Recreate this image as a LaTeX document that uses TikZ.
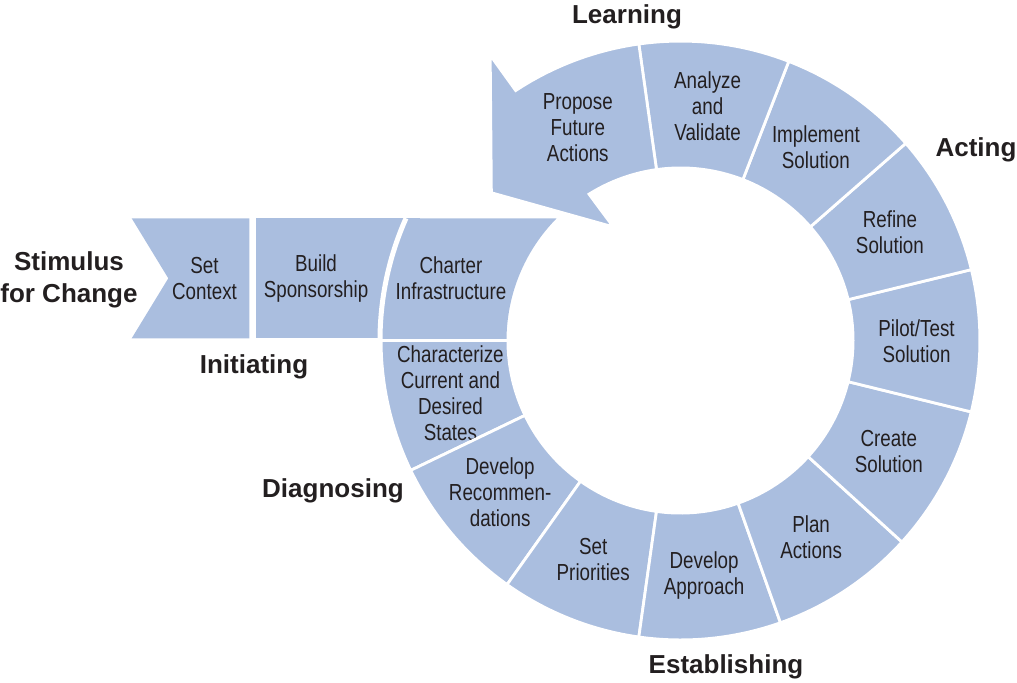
\documentclass[tikz,border=0pt]{standalone}
\usepackage{fontspec}
\setmainfont{Liberation Sans}
\newfontfamily\narrowsf{Liberation Sans}[FakeStretch=0.81]
\usetikzlibrary{calc}
\definecolor{ringblue}{RGB}{170,190,223}
\definecolor{ink}{RGB}{35,31,32}
\tikzset{
  seg/.style={fill=ringblue,draw=white,line width=1.4pt},
  seg text/.style={align=center,text=ink,inner sep=0pt,font=\narrowsf\fontsize{11.6}{13}\selectfont},
  phase/.style={align=center,text=ink,inner sep=0pt,font=\bfseries\fontsize{13}{16}\selectfont},
}

\begin{document}
\begin{tikzpicture}[x=0.5pt,y=0.5pt]
	\useasboundingbox (0,0) rectangle (1017,-682);

	% initiating strip
	\fill[ringblue] (131.7,-218.3) -- (249.3,-218.3) -- (249.3,-338.3) -- (131.7,-338.3) -- (168.3,-278.3) -- cycle;
	\fill[ringblue] (256,-218.3) rectangle (420,-338.3);

	\begin{scope}[shift={(680.5,-340.5)}]
		\def\rin{172.6}
		\def\rout{299.4}
		% charter piece, cut off at the top of the strip
		\fill[ringblue] (156:300.5) -- (135.4:174) arc[start angle=135.4,end angle=180,radius=174]
		    -- (180:300.5) arc[start angle=180,end angle=156,radius=300.5] -- cycle;
		\draw[white,line width=2.5pt] (156:300.5) arc[start angle=156,end angle=180,radius=300.5];

		% the ring
		\foreach \a/\b/\txt [count=\i] in {
		    180/205.7/{Characterize\\Current and\\Desired\\States},
		    205.7/234.6/{Develop\\Recommen-\\dations},
		    234.6/262/{Set\\Priorities},
		    262/289.5/{Develop\\Approach},
		    289.5/317.7/{Plan\\Actions},
		    317.7/346.2/{Create\\Solution},
		    346.2/373.7/{Pilot/Test\\Solution},
		    373.7/401.2/{Refine\\Solution},
		    401.2/428.8/{Implement\\Solution},
		    428.8/458/{Analyze\\and\\Validate}} {
			\pgfmathsetmacro\m{(\a+\b)/2}
			\path[seg] (\a:\rin) arc[start angle=\a,end angle=\b,radius=\rin]
			    -- (\b:\rout) arc[start angle=\b,end angle=\a,radius=\rout] -- cycle;
			\node[seg text] (seg\i) at (\m:236) {\txt};
		}

		% learning arrow
		\path[seg] (98:\rin) arc[start angle=98,end angle=122,radius=\rin]
		    -- (120.6:132) -- (142:240) -- (123.7:343) -- (123.4:\rout)
		    arc[start angle=123.4,end angle=98,radius=\rout] -- cycle;
		\node[seg text] (propose) at (115.8:236) {Propose\\Future\\Actions};
	\end{scope}

	\node[seg text] (context) at (204.5,-278.5) {Set\\Context};
	\node[seg text] (sponsor) at (316,-278.5) {Build\\Sponsorship};
	\node[seg text] (charter) at (451,-278.5) {Charter\\Infrastructure};

	% phase names
	\node[phase] (stimulus) at (69,-280) {Stimulus\\for Change};
	\node[phase] (initiating) at (254,-367) {Initiating};
	\node[phase] (diagnosing) at (333,-491) {Diagnosing};
	\node[phase] (establishing) at (726,-667) {Establishing};
	\node[phase] (acting) at (976,-150) {Acting};
	\node[phase] (learning) at (627,-17) {Learning};
\end{tikzpicture}
\end{document}
